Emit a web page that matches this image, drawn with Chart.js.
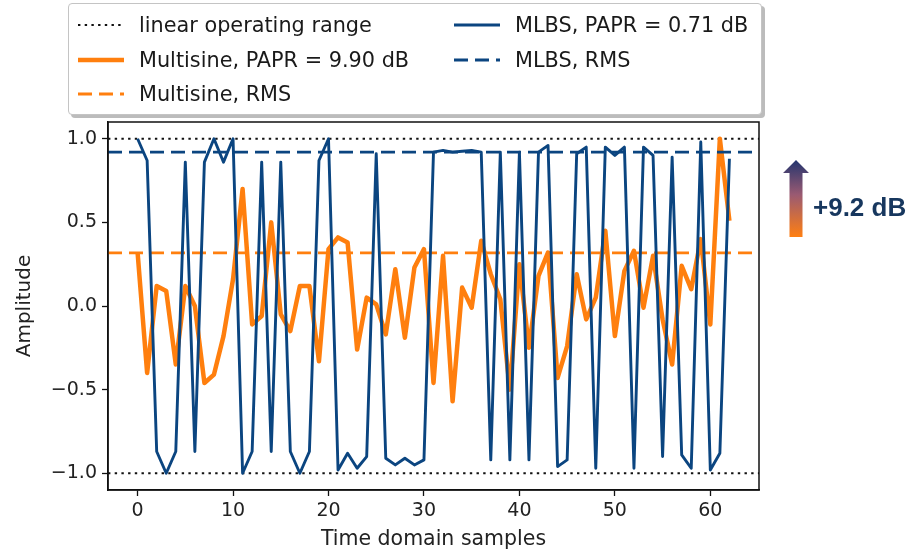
<!DOCTYPE html>
<html>
<head>
<meta charset="utf-8">
<script src="https://cdn.jsdelivr.net/npm/chart.js@4.4.1/dist/chart.umd.min.js"></script>
<style>
    html, body { margin: 0; padding: 0; background: #fff; }
    #wrap { position: relative; width: 912px; height: 553px; overflow: hidden; }
    #chart { position: absolute; left: 0; top: 0; }
    #legend {
        position: absolute; left: 68px; top: 3px; width: 692px; height: 110px;
        border: 1px solid #c4c4c4; border-radius: 4px; background: #fff;
        box-shadow: 3px 3px 0 #bcbcbc;
        font-family: 'DejaVu Sans', sans-serif; font-size: 20.8px; color: #1a1a1a;
    }
    .item { position: absolute; display: flex; align-items: center; white-space: nowrap; }
    .item svg { margin-right: 14px; }
    #gain { position: absolute; left: 813px; top: 192px; font-family: 'Liberation Sans', Arial, sans-serif;
        font-weight: bold; font-size: 26px; color: #17375e; white-space: nowrap; }
    #arrow { position: absolute; left: 780px; top: 158px; }
</style>
</head>
<body>
<div id="wrap">
    <canvas id="chart" width="912" height="553"></canvas>
    <div id="legend"></div>
    <svg id="arrow" width="32" height="82">
        <defs>
            <linearGradient id="ag" x1="0" y1="0" x2="0" y2="1">
                <stop offset="0" stop-color="#23356e"/>
                <stop offset="0.45" stop-color="#9a5a72"/>
                <stop offset="1" stop-color="#ff7f12"/>
            </linearGradient>
        </defs>
        <polygon points="16,2 29,15 22.5,15 22.5,79 9.5,79 9.5,15 3,15" fill="url(#ag)"/>
    </svg>
    <div id="gain">+9.2 dB</div>
</div>
<script>
(function () {

    // sample values
    const multisine = [0.32, -0.40, 0.12, 0.09, -0.35, 0.12, 0.00, -0.46, -0.41, -0.18,
        0.16, 0.70, -0.11, -0.06, 0.50, -0.05, -0.15, 0.12, 0.12, -0.33,
        0.34, 0.41, 0.38, -0.26, 0.05, 0.01, -0.17, 0.22, -0.19, 0.23,
        0.34, -0.46, 0.30, -0.57, 0.11, -0.01, 0.39, 0.19, 0.04, -0.50,
        0.25, -0.25, 0.18, 0.32, -0.43, -0.24, 0.19, -0.08, 0.05, 0.45,
        -0.18, 0.21, 0.33, -0.01, 0.30, -0.08, -0.35, 0.24, 0.10, 0.40,
        -0.11, 1.00, 0.51];

    const mlbs = [1.00, 0.87, -0.87, -1.00, -0.87, 0.86, -0.87, 0.86, 1.00, 0.86,
        1.00, -1.00, -0.87, 0.86, -0.87, 0.86, -0.87, -1.00, -0.87, 0.87,
        1.00, -0.98, -0.88, -0.97, -0.90, 0.91, -0.91, -0.95, -0.91, -0.95,
        -0.92, 0.92, 0.93, 0.92, 0.925, 0.93, 0.92, -0.92, 0.92, -0.92,
        0.92, -0.92, 0.92, 0.96, -0.96, -0.92, 0.91, 0.95, -0.97, 0.95,
        0.90, 0.95, -0.97, 0.95, 0.90, -0.90, 0.89, -0.89, -0.97, 0.98,
        -0.98, -0.88, 0.88];

    const rmsMultisine = 0.318;
    const rmsMlbs = 0.92;
    const linearRange = [-1, 1];

    const xLimits = [-3.1, 65.1];
    const yLimits = [-1.1, 1.1];
    const xTicks = [0, 10, 20, 30, 40, 50, 60];
    const yTicks = [-1.0, -0.5, 0.0, 0.5, 1.0];

    const legendLabels = ['linear operating range', 'Multisine, PAPR = 9.90 dB', 'Multisine, RMS',
        'MLBS, PAPR = 0.71 dB', 'MLBS, RMS'];

    const ORANGE = '#ff7f0e';
    const BLUE = '#0b4580';
    const DOT = [2.4, 4.3];
    const DASH = [14, 7];

    // horizontal line across the whole axis
    function hline(y) {
        return [{ x: xLimits[0], y: y }, { x: xLimits[1], y: y }];
    }

    const datasets = [
        { data: hline(linearRange[1]), borderColor: '#111', borderWidth: 2.2, borderDash: DOT, order: 5 },
        { data: hline(linearRange[0]), borderColor: '#111', borderWidth: 2.2, borderDash: DOT, order: 5 },
        { data: multisine.map((v, i) => ({ x: i, y: v })), borderColor: ORANGE, borderWidth: 4.5, order: 4 },
        { data: hline(rmsMultisine), borderColor: ORANGE, borderWidth: 2.8, borderDash: DASH, order: 3 },
        { data: mlbs.map((v, i) => ({ x: i, y: v })), borderColor: BLUE, borderWidth: 2.9, order: 1 },
        { data: hline(rmsMlbs), borderColor: BLUE, borderWidth: 2.8, borderDash: DASH, order: 2 }
    ];
    datasets.forEach(d => { d.pointRadius = 0; d.tension = 0; d.fill = false; d.borderJoinStyle = 'round'; });

    // top and right spines
    const frame = {
        id: 'frame',
        afterDatasetsDraw(chart) {
            const a = chart.chartArea, ctx = chart.ctx;
            ctx.save();
            ctx.strokeStyle = '#111';
            ctx.lineWidth = 1.5;
            ctx.strokeRect(a.left, a.top, a.right - a.left, a.bottom - a.top);
            ctx.restore();
        }
    };

    const fmt = v => v.toFixed(1).replace('-', '\u2212');
    const tickFont = { family: 'DejaVu Sans', size: 19 };

    new Chart(document.getElementById('chart'), {
        type: 'line',
        data: { datasets: datasets },
        options: {
            responsive: false,
            animation: false,
            events: [],
            layout: { padding: { top: 122, right: 153, left: 0, bottom: 0 } },
            plugins: { legend: { display: false }, tooltip: { enabled: false } },
            scales: {
                x: {
                    type: 'linear', min: xLimits[0], max: xLimits[1],
                    afterBuildTicks: s => { s.ticks = xTicks.map(v => ({ value: v })); },
                    afterFit: s => { s.height = 63; },
                    grid: { display: true, drawOnChartArea: false, drawTicks: true, tickLength: 6, color: '#111', tickWidth: 1.3 },
                    border: { display: true, color: '#111', width: 1.5 },
                    ticks: { font: tickFont, color: '#222', padding: 4, maxRotation: 0, autoSkip: false, callback: v => String(v) },
                    title: { display: true, text: 'Time domain samples', font: { family: 'DejaVu Sans', size: 20.5 }, color: '#222', padding: { top: 0, bottom: 1 } }
                },
                y: {
                    type: 'linear', min: yLimits[0], max: yLimits[1],
                    afterBuildTicks: s => { s.ticks = yTicks.map(v => ({ value: v })); },
                    afterFit: s => { s.width = 108; },
                    grid: { display: true, drawOnChartArea: false, drawTicks: true, tickLength: 6, color: '#111', tickWidth: 1.3 },
                    border: { display: true, color: '#111', width: 1.5 },
                    ticks: { font: tickFont, color: '#222', padding: 5, autoSkip: false, callback: v => fmt(v) },
                    title: { display: true, text: 'Amplitude', font: { family: 'DejaVu Sans', size: 20 }, color: '#222', padding: { top: 13, bottom: 0 } }
                }
            }
        },
        plugins: [frame]
    });

    // legend, two columns like the original
    const legendItems = [
        { label: legendLabels[0], color: '#111', width: 2.2, dash: DOT, x: 8, y: 21 },
        { label: legendLabels[1], color: ORANGE, width: 4.5, dash: null, x: 8, y: 56 },
        { label: legendLabels[2], color: ORANGE, width: 2.8, dash: DASH, x: 8, y: 90 },
        { label: legendLabels[3], color: BLUE, width: 2.8, dash: null, x: 384, y: 21 },
        { label: legendLabels[4], color: BLUE, width: 2.8, dash: DASH, x: 384, y: 56 }
    ];
    const legend = document.getElementById('legend');
    legendItems.forEach(it => {
        const div = document.createElement('div');
        div.className = 'item';
        div.style.left = it.x + 'px';
        div.style.top = (it.y - 14) + 'px';
        const dash = it.dash ? ' stroke-dasharray="' + it.dash.join(' ') + '"' : '';
        div.innerHTML = '<svg width="48" height="28"><line x1="1" y1="14" x2="47" y2="14" stroke="' + it.color +
            '" stroke-width="' + it.width + '"' + dash + '/></svg><span></span>';
        div.querySelector('span').textContent = it.label;
        legend.appendChild(div);
    });
})();
</script>
</body>
</html>
